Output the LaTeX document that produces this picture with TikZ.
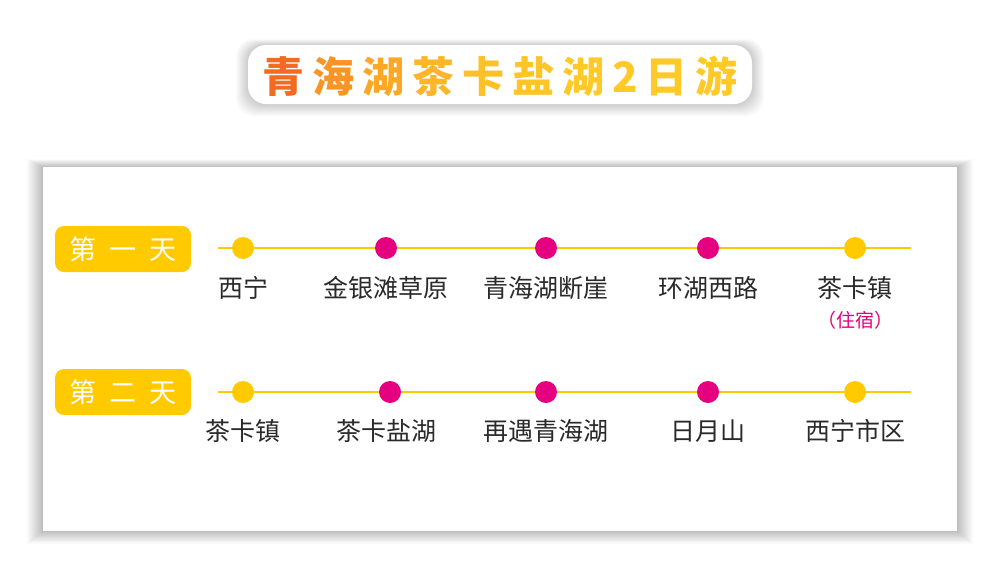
\documentclass[tikz,border=0pt]{standalone}
\usepackage{fontspec}
\newfontfamily\cjk{Noto Sans CJK SC}
\definecolor{gold}{HTML}{FFCA00}
\definecolor{mag}{HTML}{E5007F}
\definecolor{txt}{HTML}{2A2A2A}
\definecolor{tA}{HTML}{F26B21}
\definecolor{tB}{HTML}{FFC928}
\begin{document}
\begin{tikzpicture}[x=1pt,y=-1pt,
  lbl/.style={font=\cjk\fontsize{25}{25}\selectfont, text=txt, inner sep=0pt},
  note/.style={font=\cjk\fontsize{19}{19}\selectfont, text=mag, inner sep=0pt},
  daybox/.style={fill=gold, rounded corners=9pt, minimum width=136pt, minimum height=46pt, inner sep=0pt, text=white, font=\cjk\fontsize{27}{27}\selectfont},
  dotY/.style={circle, fill=gold, minimum size=22pt, inner sep=0pt},
  dotM/.style={circle, fill=mag, minimum size=22pt, inner sep=0pt},
  tline/.style={draw=gold, line width=2pt}]
\useasboundingbox[fill=white] (0,0) rectangle (1000,573);
% card shadow
\foreach \i in {1,...,16} {
  \fill[black,opacity=0.014] (43-\i,167-0.5*\i) rectangle (957+\i,531+0.8*\i);
}
\node[fill=white, minimum width=914pt, minimum height=364pt, inner sep=0pt] (card) at (500,349) {};
% title shadow
\foreach \i in {1,...,12} {
  \fill[black,opacity=0.016, rounded corners=18pt] (248-\i,45-0.5*\i) rectangle (752+\i,104+\i);
}
\node[fill=white, rounded corners=18pt, minimum width=504pt, minimum height=59pt, inner sep=0pt] (titlebox) at (500,74.5) {};
\node[inner sep=0pt, font=\cjk\bfseries\fontsize{42}{42}\selectfont] (title) at (500,76) {%
\textcolor{tA}{青}\hspace{8pt}\textcolor{tB!45!tA}{海}\hspace{8pt}\textcolor{tB!65!tA}{湖}\hspace{8pt}\textcolor{tB!80!tA}{茶}\hspace{8pt}\textcolor{tB!90!tA}{卡}\hspace{8pt}\textcolor{tB!95!tA}{盐}\hspace{8pt}\textcolor{tB}{湖}\hspace{8pt}\textcolor{tB}{2}\hspace{8pt}\textcolor{tB}{日}\hspace{8pt}\textcolor{tB}{游}};
% day 1
\node[daybox] (d1) at (123,249) {第\hspace{13pt}一\hspace{13pt}天};
\coordinate (l1s) at (218,248);
\coordinate (l1e) at (911,248);
\draw[tline] (l1s) -- (l1e);
\node[dotY] (a1) at (243,248) {};
\node[dotM] (a2) at (386,248) {};
\node[dotM] (a3) at (546,248) {};
\node[dotM] (a4) at (708,248) {};
\node[dotY] (a5) at (855,248) {};
\node[lbl] (t1) at (243,288) {西宁};
\node[lbl] (t2) at (386,288) {金银滩草原};
\node[lbl] (t3) at (546,288) {青海湖断崖};
\node[lbl] (t4) at (708,288) {环湖西路};
\node[lbl] (t5) at (855,288) {茶卡镇};
\node[note] (t5n) at (855,320) {（住宿）};
% day 2
\node[daybox] (d2) at (123,392) {第\hspace{13pt}二\hspace{13pt}天};
\coordinate (l2s) at (218,392);
\coordinate (l2e) at (911,392);
\draw[tline] (l2s) -- (l2e);
\node[dotY] (b1) at (243,392) {};
\node[dotM] (b2) at (390,392) {};
\node[dotM] (b3) at (546,392) {};
\node[dotM] (b4) at (708,392) {};
\node[dotY] (b5) at (855,392) {};
\node[lbl] (s1) at (243,431) {茶卡镇};
\node[lbl] (s2) at (386,431) {茶卡盐湖};
\node[lbl] (s3) at (546,431) {再遇青海湖};
\node[lbl] (s4) at (708,431) {日月山};
\node[lbl] (s5) at (855,431) {西宁市区};
\end{tikzpicture}
\end{document}
